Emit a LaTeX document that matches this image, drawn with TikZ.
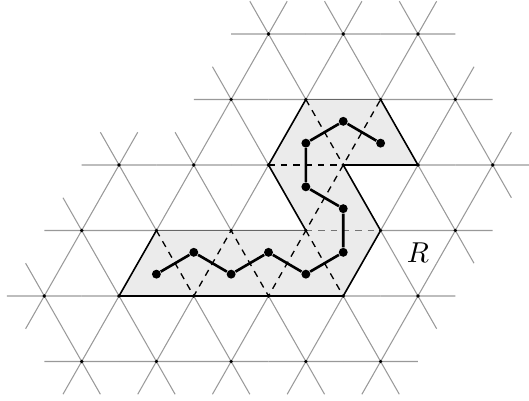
\documentclass[tikz,border=0pt]{standalone}
\usepackage{xcolor}
\usepackage{amsmath,amssymb}
\usepackage{tikz}
\usetikzlibrary{calc}

\def\latticerows{4/{3,4,5}, 3/{2.5,3.5,4.5,5.5}, 2/{1,2,3,4,5,6}, 1/{0.5,1.5,2.5,3.5,4.5,5.5}, 0/{0,1,2,3,4,5}, -1/{0.5,1.5,2.5,3.5,4.5}}

\begin{document}
\begin{tikzpicture}[
    x=1cm, y=0.8765cm,
    grid/.style={draw=black!40, line width=0.4pt},
    region/.style={fill=black!8},
    edge/.style={draw=black, line width=0.6pt},
    cut/.style={draw=black, line width=0.5pt, dash pattern=on 2.5pt off 2.2pt},
    site/.style={circle, fill=black, inner sep=0pt, minimum size=1.4pt},
    bead/.style={circle, fill=black, inner sep=0pt, minimum size=3.4pt},
    chain/.style={draw=black, line width=1pt}
]

  \useasboundingbox (-0.593,-1.588) rectangle (6.486,4.519);

  % Lattice: half edges out of every site
  \foreach \r/\xs in \latticerows{
    \foreach \x in \xs{
      \draw[grid] (\x,\r) ++(-0.5,0) -- ++(1,0)
                  (\x,\r) ++(-0.25,-0.5) -- ++(0.5,1)
                  (\x,\r) ++(0.25,-0.5) -- ++(-0.5,1);
    }
  }

  % Corners of the region R
  \coordinate (A) at (3.5,3);
  \coordinate (B) at (4.5,3);
  \coordinate (C) at (5,2);
  \coordinate (D) at (4,2);
  \coordinate (E) at (4.5,1);
  \coordinate (F) at (4,0);
  \coordinate (G) at (1,0);
  \coordinate (H) at (1.5,1);
  \coordinate (I) at (3.5,1);
  \coordinate (J) at (3,2);
  \coordinate (K) at (2,0);
  \coordinate (L) at (2.5,1);
  \coordinate (M) at (3,0);

  \fill[region] (A) -- (B) -- (C) -- (D) -- (E) -- (F) -- (G) -- (H) -- (I) -- (J) -- cycle;

  % Boundary
  \draw[edge] (J) -- (A) (B) -- (C) -- (D) -- (E) -- (F) -- (G) -- (H) (I) -- (J);
  \draw[edge, draw=black!60] (A) -- (B) (H) -- (I);

  % Inner triangles
  \draw[cut] (J) -- (D);
  \draw[cut, draw=black!55] (I) -- (E);
  \draw[cut] (H) -- (K) -- (L) -- (M) -- (B);
  \draw[cut] (A) -- (D);
  \draw[cut] (I) -- (F);

  % Sites
  \foreach \r/\xs in \latticerows{
    \foreach \x [count=\i] in \xs{
      \node[site] (s\r-\i) at (\x,\r) {};
    }
  }

  % Path through the triangles
  \foreach \p [count=\i] in {(1.5,1/3), (2,2/3), (2.5,1/3), (3,2/3), (3.5,1/3), (4,2/3), (4,4/3), (3.5,5/3), (3.5,7/3), (4,8/3), (4.5,7/3)}{
    \node[bead] (b\i) at \p {};
  }
  \draw[chain] (b1) -- (b2) -- (b3) -- (b4) -- (b5) -- (b6) -- (b7) -- (b8) -- (b9) -- (b10) -- (b11);

  \node[font=\fontsize{10.6}{12}\selectfont] (lab) at (5,2/3) {$R$};

\end{tikzpicture}
\end{document}
